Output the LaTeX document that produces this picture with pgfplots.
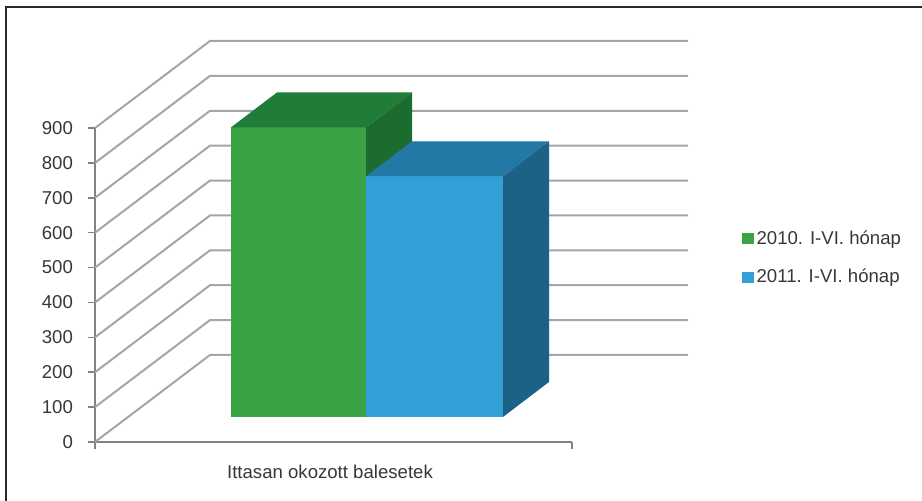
\documentclass[border=0pt]{standalone}
\usepackage{pgfplots}
\pgfplotsset{compat=1.18}
\usepackage{fontspec}
\setmainfont{Liberation Sans}
\definecolor{gfront}{RGB}{60,162,70}
\definecolor{gtop}{RGB}{31,125,55}
\definecolor{gside}{RGB}{27,108,46}
\definecolor{bfront}{RGB}{50,160,215}
\definecolor{btop}{RGB}{35,120,165}
\definecolor{bside}{RGB}{28,98,135}
\definecolor{gridc}{RGB}{165,165,165}
\definecolor{axc}{RGB}{130,130,130}
\definecolor{txt}{RGB}{55,55,55}
\definecolor{framec}{RGB}{40,40,40}
\begin{document}
\begin{tikzpicture}
\path[use as bounding box] (0,0) rectangle (461pt,250.5pt);
\draw[line width=1pt, framec] (3pt,0) -- (3pt,247pt) -- (461pt,247pt);
\begin{axis}[
  at={(47.5pt,29.5pt)}, anchor=south west,
  scale only axis, width=238.5pt, height=157pt,
  xmin=95, xmax=572, ymin=0, ymax=900,
  clip=false,
  axis lines*=left,
  axis line style={axc, line width=1pt},
  ytick={0,100,...,900},
  xtick={95,572}, xticklabels={},
  tick align=outside, major tick length=3.5pt,
  tick style={axc, line width=0.8pt},
  /pgf/number format/assume math mode=true,
  yticklabel style={font=\fontsize{9.3}{11}\selectfont, text=txt, xshift=-4pt},
  legend style={draw=none, fill=none, at={(axis cs:742,527)}, anchor=west,
    font=\fontsize{9.3}{11}\selectfont, text=txt, row sep=8pt,
    inner sep=0pt, nodes={inner sep=1.5pt}},
  legend cell align=left,
  legend image code/.code={\fill (0pt,-2.8pt) rectangle (5.6pt,2.8pt);},
]
% back wall gridlines (depth offset: +115 in x, +249.4 in y)
\addplot[gridc, line width=1pt, forget plot] coordinates {(95,0) (210,249.4) (688,249.4)};
\addplot[gridc, line width=1pt, forget plot] coordinates {(95,100) (210,349.4) (688,349.4)};
\addplot[gridc, line width=1pt, forget plot] coordinates {(95,200) (210,449.4) (688,449.4)};
\addplot[gridc, line width=1pt, forget plot] coordinates {(95,300) (210,549.4) (688,549.4)};
\addplot[gridc, line width=1pt, forget plot] coordinates {(95,400) (210,649.4) (688,649.4)};
\addplot[gridc, line width=1pt, forget plot] coordinates {(95,500) (210,749.4) (688,749.4)};
\addplot[gridc, line width=1pt, forget plot] coordinates {(95,600) (210,849.4) (688,849.4)};
\addplot[gridc, line width=1pt, forget plot] coordinates {(95,700) (210,949.4) (688,949.4)};
\addplot[gridc, line width=1pt, forget plot] coordinates {(95,800) (210,1049.4) (688,1049.4)};
\addplot[gridc, line width=1pt, forget plot] coordinates {(95,900) (210,1149.4) (688,1149.4)};
% 2010: value 830 (front face base at depth offset 71.7; back faces +100.3)
\addplot[fill=gfront, draw=none] coordinates {(231,71.7) (366,71.7) (366,901.7) (231,901.7)} -- cycle;
\addlegendentry{2010. I-VI. hónap}
\addplot[fill=gtop, draw=none, forget plot] coordinates {(231,901.7) (366,901.7) (412,1002) (277,1002)} -- cycle;
\addplot[fill=gside, draw=none, forget plot] coordinates {(366,71.7) (412,172) (412,1002) (366,901.7)} -- cycle;
% 2011: value 690
\addplot[fill=bfront, draw=none] coordinates {(366,71.7) (503,71.7) (503,761.7) (366,761.7)} -- cycle;
\addlegendentry{2011. I-VI. hónap}
\addplot[fill=btop, draw=none, forget plot] coordinates {(366,761.7) (503,761.7) (549,862) (412,862)} -- cycle;
\addplot[fill=bside, draw=none, forget plot] coordinates {(503,71.7) (549,172) (549,862) (503,761.7)} -- cycle;
\node[font=\fontsize{9.3}{11}\selectfont, text=txt, anchor=base] at (axis cs:330,-106) {Ittasan okozott balesetek};
\end{axis}
\end{tikzpicture}
\end{document}
